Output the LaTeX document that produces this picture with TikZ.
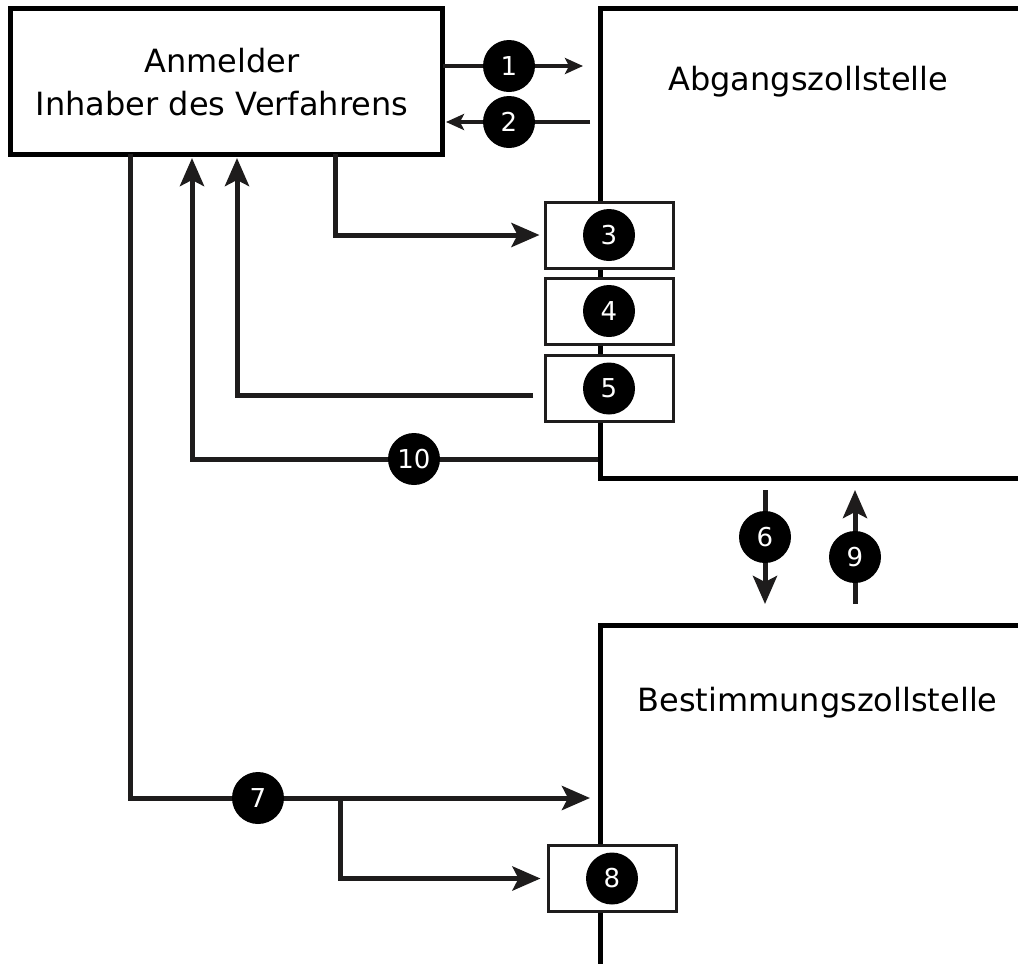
\documentclass[tikz,border=0pt]{standalone}
\usepackage{fontspec}
\setmainfont{DejaVu Sans}
\usetikzlibrary{arrows.meta}
\definecolor{ink}{RGB}{30,28,28}
\begin{document}
\begin{tikzpicture}[x=0.5pt,y=-0.5pt,
  line/.style={line width=2.5pt, draw=ink},
  arr/.style={line, -{Stealth[length=14pt,width=12pt,inset=3pt]}},
  arrsmall/.style={line, line width=2pt, -{Stealth[length=9pt,width=8pt,inset=2pt]}},
  num/.style={circle, fill=black, text=white, minimum size=26pt, inner sep=0pt, font=\fontsize{13}{13}\selectfont},
  smallbox/.style={draw=ink, line width=1.5pt, fill=white, minimum width=64pt, minimum height=33pt, inner sep=0pt},
  bigbox/.style={draw=black, line width=2.5pt, minimum width=216pt, minimum height=73pt},
  lbl/.style={font=\fontsize{16}{21.5}\selectfont}]
\useasboundingbox (0,0) rectangle (1018,964);

% Anmelder
\node[bigbox] (anm) at (226,81) {};
\node[lbl, anchor=base] (anmt1) at (222,72) {Anmelder};
\node[lbl, anchor=base] (anmt2) at (222,115) {Inhaber des Verfahrens};

% Abgangszollstelle (open box)
\coordinate (abgTR) at (1030,8);
\coordinate (abgTL) at (600,8);
\coordinate (abgBL) at (600,478);
\coordinate (abgBR) at (1030,478);
\draw[line width=2.5pt, draw=black] (abgTR) -- (abgTL) -- (abgBL) -- (abgBR);
\node[lbl, anchor=base west, inner sep=0pt] (abg) at (668,90) {Abgangszollstelle};

% Bestimmungszollstelle (open box)
\coordinate (beTR) at (1030,625);
\coordinate (beTL) at (600,625);
\coordinate (beBL) at (600,975);
\draw[line width=2.5pt, draw=black] (beTR) -- (beTL) -- (beBL);
\node[lbl, anchor=base west, inner sep=0pt] (bes) at (637,711) {Bestimmungszollstelle};

% small boxes
\node[smallbox] (b3) at (609,235) {};
\node[smallbox] (b4) at (609,311) {};
\node[smallbox] (b5) at (609,388.5) {};
\node[smallbox] (b8) at (612,878.5) {};

% coordinates for connectors
\coordinate (s1) at (443,66);
\coordinate (e1) at (583,66);
\coordinate (s2) at (590,122);
\coordinate (e2) at (446,122);
\coordinate (s3) at (335,154);
\coordinate (e5) at (237,158);
\coordinate (s5) at (533,395);
\coordinate (s10) at (598,459);
\coordinate (e10) at (192,158);
\coordinate (s7) at (130,154);
\coordinate (e7) at (590,798);
\coordinate (br) at (340,798);
\coordinate (s6) at (765,490);
\coordinate (e6) at (765,604);
\coordinate (s9) at (855,604);
\coordinate (e9) at (855,490);

% connectors
\draw[arrsmall] (s1) -- (e1);
\draw[arrsmall] (s2) -- (e2);
\draw[arr] (s3) |- ([xshift=-2pt]b3.west);
\draw[arr] (s5) -| (e5);
\draw[arr] (s10) -| (e10);
\draw[arr] (s7) |- (e7);
\draw[arr] (br) |- ([xshift=-3pt]b8.west);
\draw[arr] (s6) -- (e6);
\draw[arr] (s9) -- (e9);

% number badges
\node[num] (n1) at (509,66) {1};
\node[num] (n2) at (509,122) {2};
\node[num] (n3) at (b3) {3};
\node[num] (n4) at (b4) {4};
\node[num] (n5) at (b5) {5};
\node[num] (n6) at (765,537) {6};
\node[num] (n7) at (258,798) {7};
\node[num] (n8) at (b8) {8};
\node[num] (n9) at (855,557) {9};
\node[num] (n10) at (414,459) {10};
\end{tikzpicture}
\end{document}
